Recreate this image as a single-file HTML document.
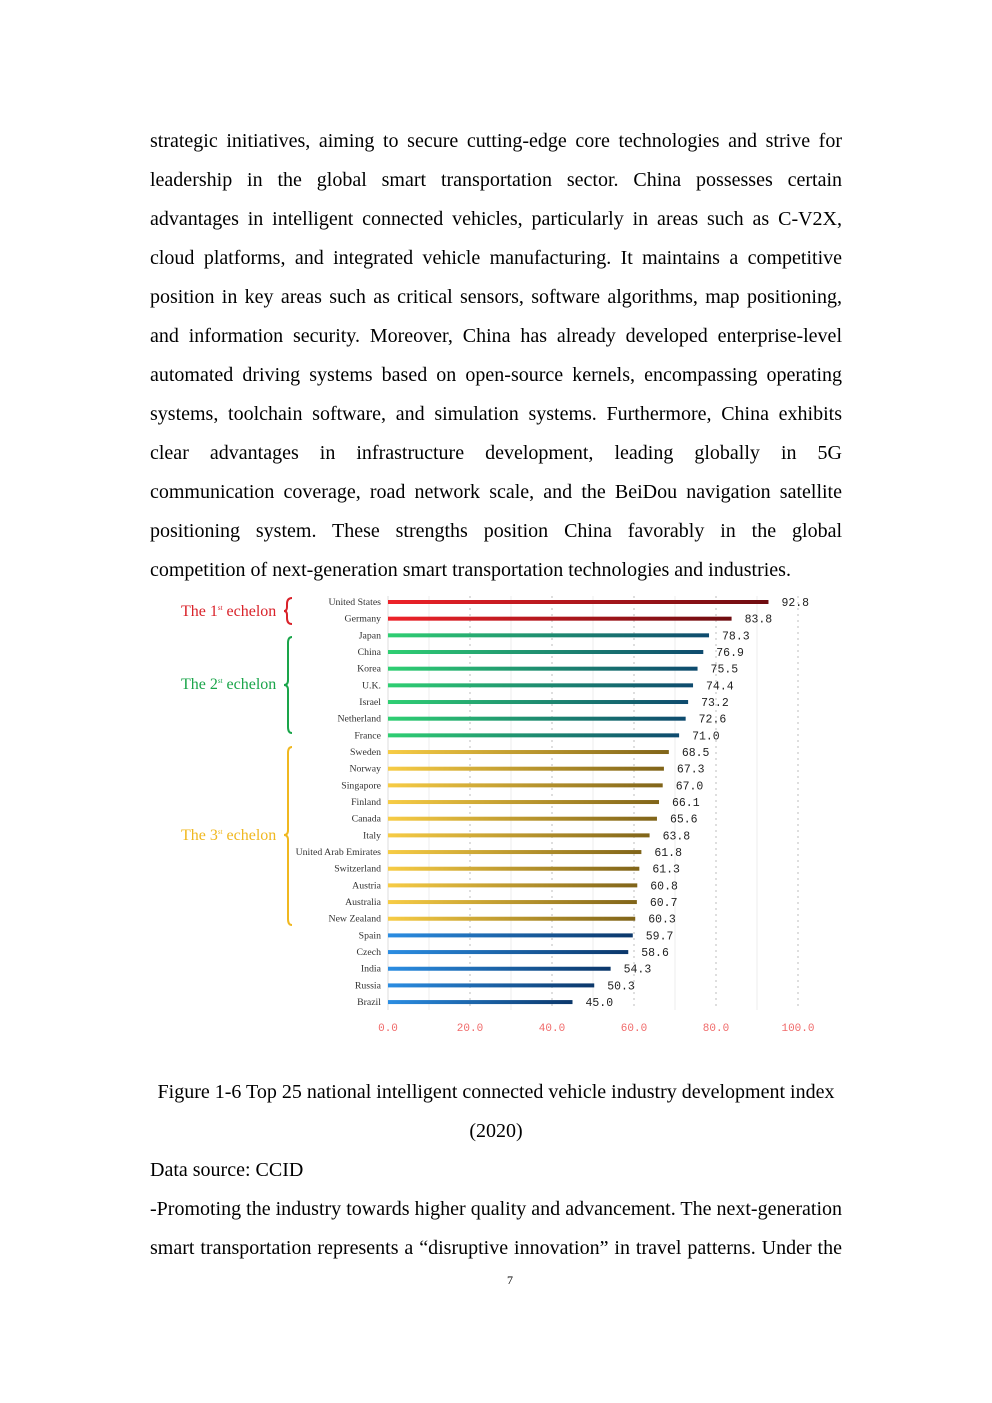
<!DOCTYPE html>
<html><head><meta charset="utf-8"><style>
body{margin:0;background:#fff;width:992px;height:1403px;position:relative;font-family:"Liberation Serif",serif;color:#000;overflow:hidden}
.p{position:absolute;left:150px;width:692px;font-size:20px;line-height:39px;text-align:justify;text-align-last:justify}
.l{position:absolute;font-size:20px;white-space:nowrap}
</style></head><body>
<div class="p" style="top:122px">strategic initiatives, aiming to secure cutting-edge core technologies and strive for</div>
<div class="p" style="top:161px">leadership in the global smart transportation sector. China possesses certain</div>
<div class="p" style="top:200px">advantages in intelligent connected vehicles, particularly in areas such as C-V2X,</div>
<div class="p" style="top:239px">cloud platforms, and integrated vehicle manufacturing. It maintains a competitive</div>
<div class="p" style="top:278px">position in key areas such as critical sensors, software algorithms, map positioning,</div>
<div class="p" style="top:317px">and information security. Moreover, China has already developed enterprise-level</div>
<div class="p" style="top:356px">automated driving systems based on open-source kernels, encompassing operating</div>
<div class="p" style="top:395px">systems, toolchain software, and simulation systems. Furthermore, China exhibits</div>
<div class="p" style="top:434px">clear advantages in infrastructure development, leading globally in 5G</div>
<div class="p" style="top:473px">communication coverage, road network scale, and the BeiDou navigation satellite</div>
<div class="p" style="top:512px">positioning system. These strengths position China favorably in the global</div>
<div class="l" style="top:551px;left:150px;line-height:39px">competition of next-generation smart transportation technologies and industries.</div>

<svg style="position:absolute;left:0;top:0" width="992" height="1403">
<defs>
<linearGradient id="r"><stop offset="0" stop-color="#ee2229"/><stop offset="1" stop-color="#6e0c10"/></linearGradient>
<linearGradient id="g"><stop offset="0" stop-color="#2fcf72"/><stop offset="1" stop-color="#0e4a6e"/></linearGradient>
<linearGradient id="y"><stop offset="0" stop-color="#f7cc45"/><stop offset="1" stop-color="#806419"/></linearGradient>
<linearGradient id="b"><stop offset="0" stop-color="#2b8de2"/><stop offset="1" stop-color="#0b376a"/></linearGradient>
</defs>
<g id="grid"></g>
<g id="bars"></g>
<g font-family="Liberation Serif,serif">
<text x="181" y="616" fill="#d9222a" font-size="16">The 1<tspan font-size="7" dy="-6">st</tspan><tspan dy="6"> echelon</tspan></text>
<text x="181" y="689" fill="#1aa54a" font-size="16">The 2<tspan font-size="7" dy="-6">st</tspan><tspan dy="6"> echelon</tspan></text>
<text x="181" y="840" fill="#f0b820" font-size="16">The 3<tspan font-size="7" dy="-6">st</tspan><tspan dy="6"> echelon</tspan></text>
</g>
<path d="M292 598 Q287 598 287 604 L287 607 Q287 611 284 611 Q287 611 287 615 L287 618 Q287 624 292 624" fill="none" stroke="#d9222a" stroke-width="2"/>
<path d="M292 637 Q288 637 288 643 L288 680 Q288 685 284 685 Q288 685 288 690 L288 727 Q288 733 292 733" fill="none" stroke="#1aa54a" stroke-width="2"/>
<path d="M292 747 Q288 747 288 753 L288 830 Q288 835 284 835 Q288 835 288 840 L288 919 Q288 925 292 925" fill="none" stroke="#f0b820" stroke-width="2"/>
</svg>

<div class="l" style="top:1073px;left:0;width:992px;text-align:center;line-height:39px">Figure 1-6 Top 25 national intelligent connected vehicle industry development index</div>
<div class="l" style="top:1112px;left:0;width:992px;text-align:center;line-height:39px">(2020)</div>
<div class="l" style="top:1151px;left:150px;line-height:39px">Data source: CCID</div>
<div class="p" style="top:1190px">-Promoting the industry towards higher quality and advancement. The next-generation</div>
<div class="p" style="top:1229px">smart transportation represents a “disruptive innovation” in travel patterns. Under the</div>
<div class="l" style="top:1273px;left:507px;font-size:12px">7</div>

<script>
var d=[["United States",92.8,"r"],["Germany",83.8,"r"],["Japan",78.3,"g"],["China",76.9,"g"],["Korea",75.5,"g"],["U.K.",74.4,"g"],["Israel",73.2,"g"],["Netherland",72.6,"g"],["France",71.0,"g"],["Sweden",68.5,"y"],["Norway",67.3,"y"],["Singapore",67.0,"y"],["Finland",66.1,"y"],["Canada",65.6,"y"],["Italy",63.8,"y"],["United Arab Emirates",61.8,"y"],["Switzerland",61.3,"y"],["Austria",60.8,"y"],["Australia",60.7,"y"],["New Zealand",60.3,"y"],["Spain",59.7,"b"],["Czech",58.6,"b"],["India",54.3,"b"],["Russia",50.3,"b"],["Brazil",45.0,"b"]];
var ns="http://www.w3.org/2000/svg",x0=388,k=4.1,G=document.getElementById("grid"),B=document.getElementById("bars");
function el(t,a,p,txt){var e=document.createElementNS(ns,t);for(var i in a)e.setAttribute(i,a[i]);if(txt)e.textContent=txt;p.appendChild(e);return e;}
for(var v=10;v<=100;v+=10){var x=x0+v*k;el("line",{x1:x,y1:596,x2:x,y2:1010,stroke:v%20==0?"#c8c8c8":"#ececec","stroke-width":v%20==0?1.2:1,"stroke-dasharray":v%20==0?"2,4":""},G);}
el("line",{x1:x0,y1:596,x2:x0,y2:1010,stroke:"#ddd"},G);
for(var v=0;v<=100;v+=20){el("text",{x:x0+v*k,y:1031,"text-anchor":"middle","font-family":"Liberation Mono,monospace","font-size":11,fill:"#f06a6a"},G,v.toFixed(1));}
d.forEach(function(r,i){var y=602+i*16.67;
el("rect",{x:x0,y:y-2,width:r[1]*k,height:4,fill:"url(#"+r[2]+")"},B);
el("text",{x:381,y:y+3,"text-anchor":"end","font-family":"Liberation Serif,serif","font-size":9.8,fill:"#333"},B,r[0]);
el("text",{x:x0+r[1]*k+13,y:y+4,"font-family":"Liberation Mono,monospace","font-size":11.5,fill:"#222"},B,r[1].toFixed(1));});
</script>
</body></html>
